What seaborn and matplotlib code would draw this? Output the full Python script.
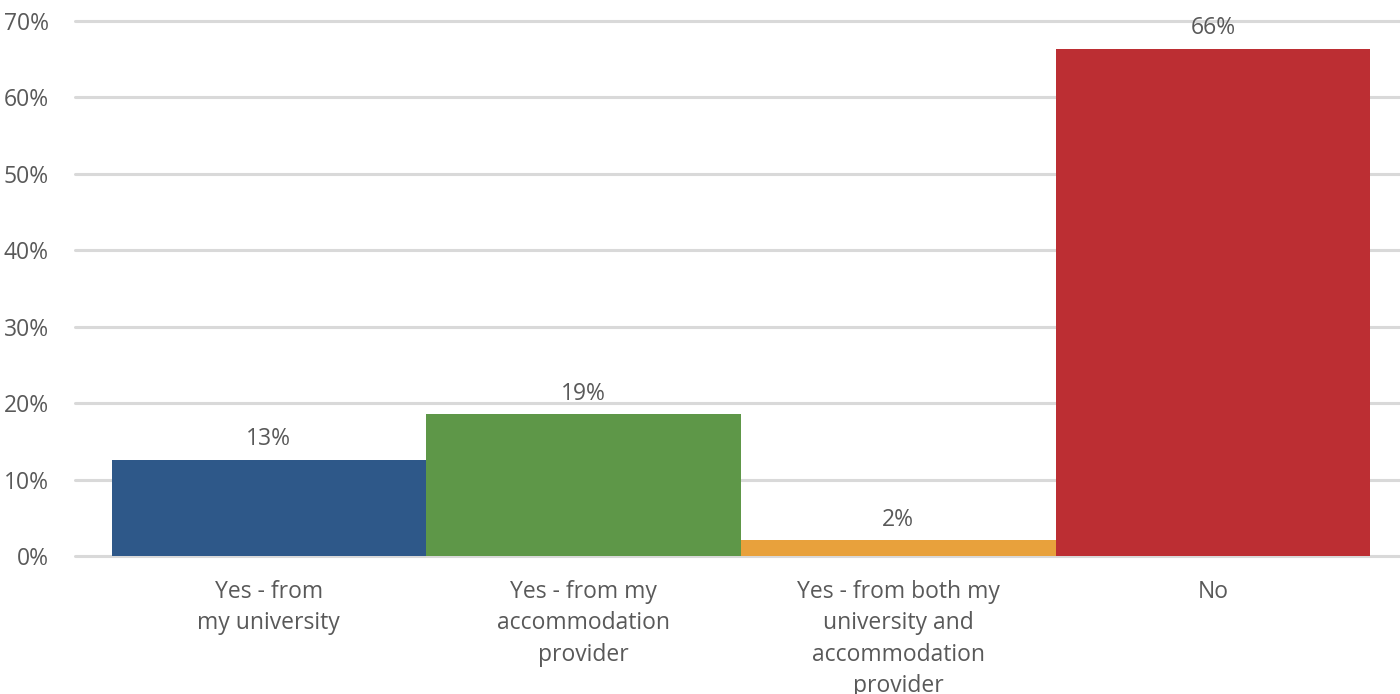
import pandas as pd
import seaborn as sns
import matplotlib.pyplot as plt
from matplotlib.ticker import FuncFormatter

# Data
categories = ['Yes - from\nmy university',
              'Yes - from my\naccommodation\nprovider',
              'Yes - from both my\nuniversity and\naccommodation\nprovider',
              'No']
values = [12.6, 18.6, 2.1, 66.4]
colors = ['#2E5889', '#5E9748', '#E8A13C', '#BC2E33']
y_ticks = [0, 10, 20, 30, 40, 50, 60, 70]

df = pd.DataFrame({'Answer': categories, 'Percent': values})

sns.set_style('white')
plt.rcParams['font.family'] = ['Open Sans', 'DejaVu Sans']
text_color = '#595959'
fs = 16.5

fig = plt.figure(figsize=(14, 6.94), dpi=100)
ax = fig.add_axes([75 / 1400, 138 / 694, 1325 / 1400, 535 / 694])

sns.barplot(data=df, x='Answer', y='Percent', hue='Answer', palette=colors,
            width=1.0, legend=False, saturation=1, linewidth=0, ax=ax, zorder=2)

ax.set_ylim(0, 70)
ax.set_xlim(-0.616, 3.594)
ax.set_yticks(y_ticks)
ax.yaxis.set_major_formatter(FuncFormatter(lambda v, _: f'{v:.0f}%'))
for y in y_ticks:
    ax.axhline(y, color='#D9D9D9', lw=2.2, zorder=1, clip_on=False)

for container in ax.containers:
    ax.bar_label(container, fmt=lambda v: f'{v:.0f}%', padding=6,
                 fontsize=fs, color=text_color)

for s in ax.spines.values():
    s.set_visible(False)
ax.tick_params(axis='y', length=0, pad=19, labelsize=fs, labelcolor=text_color)
ax.tick_params(axis='x', length=0, pad=17, labelsize=fs, labelcolor=text_color)
for lbl in ax.get_xticklabels():
    lbl.set_linespacing(1.42)
ax.set_xlabel('')
ax.set_ylabel('')

fig.savefig('out.png', dpi=100)
